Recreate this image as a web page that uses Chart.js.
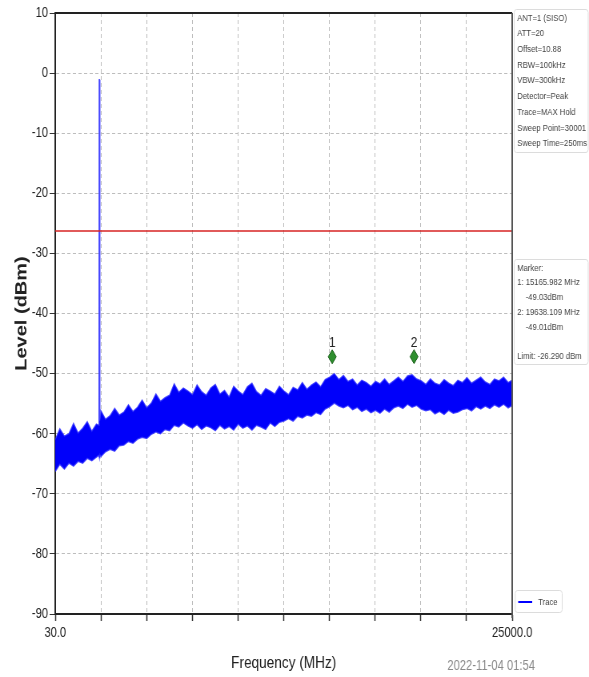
<!DOCTYPE html>
<html>
<head>
<meta charset="utf-8">
<script src="https://cdn.jsdelivr.net/npm/chart.js@4.4.1/dist/chart.umd.min.js"></script>
<style>
  body { margin: 0; background: #fff; }
  canvas { display: block; }
</style>
</head>
<body>
<!-- drawn 736 wide and shown at 589 so the text comes out narrow like the original -->
<canvas id="spectrum" width="736" height="677" style="width:589px;height:677px"></canvas>
<script>
// sweep frequencies (MHz) sampled along the trace
const freqs = [30, 280, 530, 780, 1030, 1280, 1530, 1780, 2030, 2280, 2410, 2432, 2448, 2470,
  2530, 2780, 3030, 3280, 3530, 3780, 4030, 4280, 4530, 4780, 5030, 5280, 5530, 5780,
  6030, 6280, 6530, 6780, 7030, 7280, 7530, 7780, 8030, 8280, 8530, 8780, 9030, 9280,
  9530, 9780, 10030, 10280, 10530, 10780, 11030, 11280, 11530, 11780, 12030, 12280,
  12530, 12780, 13030, 13280, 13530, 13780, 14030, 14280, 14530, 14780, 15030, 15280,
  15530, 15780, 16030, 16280, 16530, 16780, 17030, 17280, 17530, 17780, 18030, 18280,
  18530, 18780, 19030, 19280, 19530, 19780, 20030, 20280, 20530, 20780, 21030, 21280,
  21530, 21780, 22030, 22280, 22530, 22780, 23030, 23280, 23530, 23780, 24030, 24280,
  24530, 24780, 25000];

// max-hold trace, upper edge of the noise band (dBm)
const traceUpper = [-61.0, -59.2, -60.4, -60.0, -58.3, -59.9, -59.1, -58.0, -59.6, -58.4,
  -58.6, -1.1, -1.1, -57.8,
  -56.2, -57.6, -57.0, -55.8, -56.9, -56.4, -55.2, -56.3, -55.6, -54.4,
  -55.7, -54.9, -53.4, -54.6, -54.0, -53.6, -51.7, -53.1, -52.4, -52.9,
  -53.5, -51.9, -53.0, -53.6, -52.4, -51.8, -53.4, -52.8, -53.9, -52.1,
  -52.9, -53.5, -52.2, -51.6, -53.0, -53.6, -52.5, -52.9, -53.4, -52.1,
  -52.9, -53.5, -52.3, -52.7, -51.5, -52.6, -51.9, -51.4, -52.2, -51.0,
  -50.6, -50.0, -51.0, -50.3, -51.3, -50.9, -51.9, -51.1, -51.5, -52.1,
  -51.3, -51.7, -50.9, -51.8, -51.2, -50.6, -51.3, -50.4, -50.2, -50.9,
  -51.2, -51.8, -50.9, -51.6, -51.9, -51.0, -51.6, -52.0, -51.1, -51.5,
  -50.7, -51.6, -51.1, -50.6, -51.4, -51.8, -50.9, -51.2, -50.6, -51.5, -51.1];

// lower edge of the noise band (dBm)
const traceLower = [-66.3, -65.1, -65.9, -64.9, -65.4, -64.6, -64.9, -64.1, -64.5, -63.9,
  -63.6, -63.9, -64.0, -63.5,
  -63.8, -63.0, -62.6, -62.9, -62.0, -61.9, -61.3, -61.6, -60.9, -60.6,
  -60.8, -60.1, -59.7, -60.0, -59.3, -59.5, -58.6, -58.9, -58.2, -58.7,
  -59.1, -58.5, -59.3, -58.7, -59.0, -59.5, -58.6, -59.2, -58.8, -59.4,
  -58.4, -59.1, -58.7, -59.4, -58.6, -58.9, -59.3, -58.2, -58.8, -58.1,
  -57.9, -57.5, -57.9, -57.1, -57.4, -56.9, -57.1, -56.5, -56.8, -55.9,
  -55.5, -54.9, -55.4, -55.7, -55.3, -56.0, -55.6, -56.3, -55.9, -56.5,
  -56.1, -56.6, -55.9, -56.4, -55.7, -55.4, -55.8, -55.1, -55.6, -55.3,
  -55.9, -56.2, -56.0, -56.7, -56.3, -56.8, -56.1, -56.6, -56.4, -56.0,
  -55.8, -56.2, -55.5, -55.9, -55.4, -55.8, -55.2, -55.6, -55.1, -55.7, -55.3];

const limitLevel = -26.29;

const markerFreqs = [15165.982, 19638.109];
const markerLevels = [-49.03, -49.01];
const markerNames = ['1', '2'];

const xTickValues = [30, 2527, 5024, 7521, 10018, 12515, 15012, 17509, 20006, 22503, 25000];
const xTickLabels = ['30.0', '', '', '', '', '', '', '', '', '', '25000.0'];

const settingsLines = ['ANT=1 (SISO)', 'ATT=20', 'Offset=10.88', 'RBW=100kHz', 'VBW=300kHz',
  'Detector=Peak', 'Trace=MAX Hold', 'Sweep Point=30001', 'Sweep Time=250ms'];
const markerLines = ['Marker:', '1: 15165.982 MHz', '    -49.03dBm', '2: 19638.109 MHz', '    -49.01dBm', '', 'Limit: -26.290 dBm'];
const timestamp = '2022-11-04 01:54';

const SX = 0.8; // horizontal squeeze of the canvas on screen
const FONT = "'Liberation Sans', Arial, sans-serif";
Chart.defaults.font.family = FONT;
Chart.defaults.color = '#222';

const toPoints = (xs, ys) => xs.map((x, i) => ({ x: x, y: ys[i] }));

// frame, markers, info boxes, legend and timestamp
const overlayPlugin = {
    id: 'overlay',
    afterDatasetsDraw(chart) {
        const { ctx, chartArea: a, scales: { x, y } } = chart;
        const dx = px => px / SX;
        ctx.save();

        // top and right frame
        ctx.strokeStyle = '#222';
        ctx.lineWidth = 2;
        ctx.beginPath();
        ctx.moveTo(a.left, a.top);
        ctx.lineTo(a.right, a.top);
        ctx.stroke();
        ctx.strokeStyle = '#555';
        ctx.lineWidth = 2;
        ctx.beginPath();
        ctx.moveTo(a.right, a.top);
        ctx.lineTo(a.right, a.bottom + 4);
        ctx.stroke();

        // peak markers
        markerFreqs.forEach((f, i) => {
            const px = x.getPixelForValue(f);
            const py = y.getPixelForValue(markerLevels[i]) - 11;
            ctx.beginPath();
            ctx.moveTo(px, py - 7);
            ctx.lineTo(px + dx(4), py);
            ctx.lineTo(px, py + 7);
            ctx.lineTo(px - dx(4), py);
            ctx.closePath();
            ctx.fillStyle = '#2f8f2f';
            ctx.fill();
            ctx.strokeStyle = '#175c17';
            ctx.lineWidth = 1;
            ctx.stroke();
            ctx.fillStyle = '#222';
            ctx.font = '15px ' + FONT;
            ctx.textAlign = 'center';
            ctx.textBaseline = 'middle';
            ctx.fillText(markerNames[i], px, py - 14);
        });

        // side boxes
        const box = (x0, y0, w, h) => {
            ctx.strokeStyle = '#dcdcdc';
            ctx.lineWidth = 1;
            ctx.beginPath();
            ctx.roundRect(x0, y0 + 0.5, w, h, 3);
            ctx.stroke();
        };
        ctx.textAlign = 'left';
        ctx.textBaseline = 'middle';
        ctx.font = '9.6px ' + FONT;
        ctx.fillStyle = '#444';
        box(a.right + dx(2), 9, dx(74), 143);
        settingsLines.forEach((t, i) => ctx.fillText(t, a.right + dx(5), 18 + i * 15.7));
        box(a.right + dx(2), 259, dx(74), 105);
        markerLines.forEach((t, i) => ctx.fillText(t, a.right + dx(5), 268 + i * 14.8));

        // legend
        box(a.right + dx(3), a.bottom - 24, dx(47), 22);
        ctx.strokeStyle = 'blue';
        ctx.lineWidth = 2;
        ctx.beginPath();
        ctx.moveTo(a.right + dx(6), a.bottom - 12);
        ctx.lineTo(a.right + dx(20), a.bottom - 12);
        ctx.stroke();
        ctx.fillStyle = '#444';
        ctx.fillText(chart.data.datasets[1].label, a.right + dx(26), a.bottom - 12);

        // timestamp
        ctx.fillStyle = '#8a8a8a';
        ctx.font = '14px ' + FONT;
        ctx.textAlign = 'center';
        ctx.fillText(timestamp, dx(491), 666);
        ctx.restore();
    }
};

new Chart(document.getElementById('spectrum'), {
    type: 'line',
    data: {
        datasets: [
            {
                label: 'Limit',
                data: [{ x: xTickValues[0], y: limitLevel }, { x: xTickValues[xTickValues.length - 1], y: limitLevel }],
                borderColor: 'rgb(215,35,35)',
                borderWidth: 1.5,
                pointRadius: 0,
                fill: false
            },
            {
                label: 'Trace',
                data: toPoints(freqs, traceUpper),
                borderColor: 'rgba(40,40,255,0.8)',
                borderWidth: 1.4,
                pointRadius: 0,
                fill: false
            },
            {
                label: 'TraceLow',
                data: toPoints(freqs, traceLower),
                borderColor: 'rgba(40,40,255,0.8)',
                backgroundColor: 'rgb(0,0,250)',
                borderWidth: 1.4,
                pointRadius: 0,
                fill: 1
            }
        ]
    },
    options: {
        responsive: false,
        animation: false,
        devicePixelRatio: 1,
        layout: { padding: { top: 13, right: 96, left: 0, bottom: 0 } },
        plugins: {
            legend: { display: false },
            tooltip: { enabled: false }
        },
        scales: {
            x: {
                type: 'linear',
                min: 30,
                max: 25000,
                afterBuildTicks: s => { s.ticks = xTickValues.map(v => ({ value: v })); },
                afterFit: s => { s.height = 63; },
                ticks: {
                    autoSkip: false,
                    maxRotation: 0,
                    padding: 4,
                    font: { size: 14 },
                    callback: (v, i) => xTickLabels[i]
                },
                grid: { color: '#bdbdbd', tickColor: '#333', tickLength: 7, tickWidth: 1.5, tickBorderDash: [] },
                border: { color: '#222', width: 2, dash: [4, 3] },
                title: { display: true, text: 'Frequency (MHz)', font: { size: 17 }, color: '#222', padding: { top: 4, bottom: 3 } }
            },
            y: {
                min: -90,
                max: 10,
                afterFit: s => { s.width = 69; },
                ticks: { stepSize: 10, padding: 2, font: { size: 14 } },
                grid: { color: '#bdbdbd', tickColor: '#333', tickLength: 7, tickBorderDash: [] },
                border: { color: '#222', width: 2, dash: [4, 3] },
                title: { display: true, text: 'Level (dBm)', font: { size: 20, weight: 'bold' }, color: '#222', padding: { top: 15, bottom: 0 } }
            }
        }
    },
    plugins: [overlayPlugin]
});
</script>
</body>
</html>
